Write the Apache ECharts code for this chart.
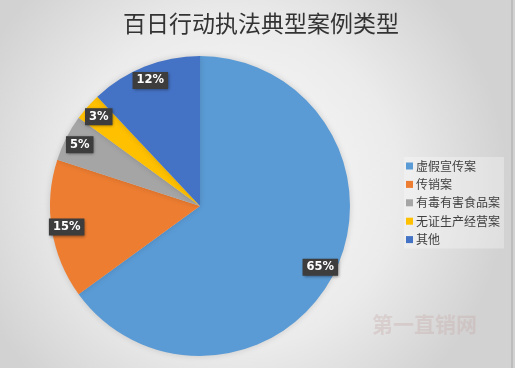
<!DOCTYPE html>
<html><head><meta charset="utf-8">
<script src="https://cdn.jsdelivr.net/npm/echarts@6/dist/echarts.min.js"></script>
<style>html,body{margin:0;padding:0;}#c{width:515px;height:368px;}</style>
</head><body><div id="c"></div>
<script>
var titleText = '百日行动执法典型案例类型';
var categories = ['虚假宣传案', '传销案', '有毒有害食品案', '无证生产经营案', '其他'];
var values = [65, 15, 5, 3, 12];
var colors = ['#5B9BD5', '#ED7D31', '#A5A5A5', '#FFC000', '#4472C4'];
var watermark = '第一直销网';

var data = categories.map(function (c, i) { return { name: c, value: values[i], itemStyle: { color: colors[i] } }; });
var labelData = categories.map(function (c, i) { return { name: c, value: values[i] }; });

var chart = echarts.init(document.getElementById('c'), null, { renderer: 'canvas' });
chart.setOption({
  animation: false,
  backgroundColor: {
    type: 'radial', x: 0.45, y: 0.5, r: 0.75,
    colorStops: [{ offset: 0, color: '#fbfbfb' }, { offset: 0.6, color: '#ebebeb' }, { offset: 1, color: '#d2d2d2' }]
  },
  title: {
    text: titleText, left: 256, top: 7, textAlign: 'center',
    textStyle: { fontFamily: 'Noto Sans CJK SC', fontSize: 23, fontWeight: 'normal', color: '#333333' }
  },
  legend: {
    orient: 'vertical', left: 404, top: 157,
    data: categories, icon: 'rect', itemWidth: 7, itemHeight: 7, itemGap: 6.4,
    backgroundColor: 'rgba(255,255,255,0.3)', padding: [3, 4, 3, 2],
    textStyle: { fontFamily: 'Noto Sans CJK SC', fontSize: 12, lineHeight: 12, color: '#404040', padding: [0, 0, 0, -2] }
  },
  graphic: [
    { type: 'text', left: 372, top: 314, silent: true,
      style: { text: watermark, fontFamily: 'Noto Sans CJK SC', fontSize: 21, fontWeight: 'bold', fill: 'rgba(200,170,170,0.35)' } },
    { type: 'rect', right: 2, top: 0, silent: true, shape: { width: 2, height: 368 }, style: { fill: '#bdbdbd' } }
  ],
  series: [
    {
      type: 'pie', center: [200, 206], radius: [0, 150], startAngle: 90, clockwise: true,
      label: { show: false }, labelLine: { show: false }, silent: true,
      itemStyle: { shadowColor: 'rgba(0,0,0,0.15)', shadowBlur: 6 },
      data: data
    },
    {
      type: 'pie', center: [200, 206], radius: [112, 152], startAngle: 90, clockwise: true, silent: true,
      itemStyle: { color: 'rgba(0,0,0,0)' }, labelLine: { show: false },
      label: {
        show: true, position: 'inside', formatter: '{c}%',
        color: '#ffffff', fontFamily: 'DejaVu Sans', fontSize: 11.5, fontWeight: 'bold', lineHeight: 12,
        backgroundColor: '#3d3d3d', padding: [3, 4, 2, 4],
        shadowColor: 'rgba(0,0,0,0.5)', shadowBlur: 3, shadowOffsetX: 1, shadowOffsetY: 1
      },
      data: labelData
    }
  ]
});
</script></body></html>
